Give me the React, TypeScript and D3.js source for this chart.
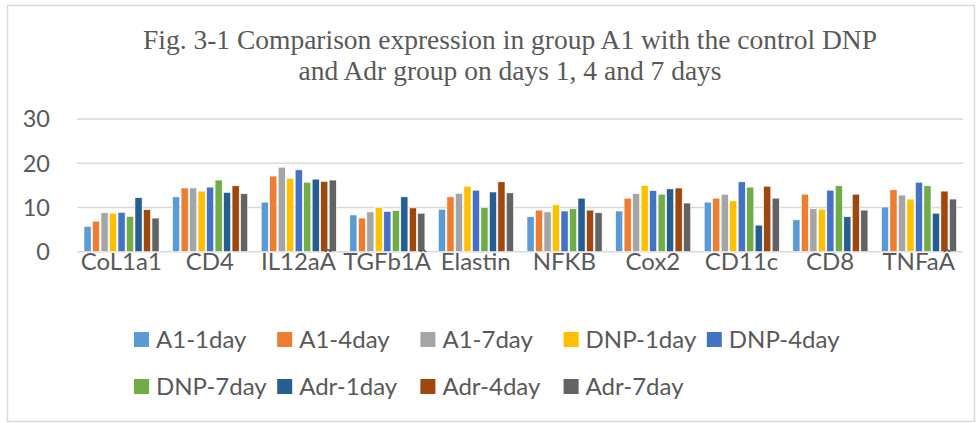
import React, { useRef, useEffect } from 'react'
import * as d3 from 'd3'

const categories = ['CoL1a1', 'CD4', 'IL12aÂ', 'TGFb1Â', 'Elastin', 'NFKB', 'Cox2', 'CD11c', 'CD8', 'TNFaÂ']

const seriesNames = ['A1-1day', 'A1-4day', 'A1-7day', 'DNP-1day', 'DNP-4day', 'DNP-7day', 'Adr-1day', 'Adr-4day', 'Adr-7day']

const a1Day1 = [5.7, 12.4, 11.2, 8.3, 9.6, 7.9, 9.2, 11.2, 7.2, 10.1]
const a1Day4 = [6.9, 14.4, 17.1, 7.6, 12.4, 9.4, 12.1, 12.1, 13.0, 14.0]
const a1Day7 = [8.8, 14.4, 19.1, 9.0, 13.2, 9.0, 13.1, 13.0, 9.7, 12.8]
const dnpDay1 = [8.7, 13.7, 16.6, 10.0, 14.8, 10.6, 15.0, 11.5, 9.6, 11.9]
const dnpDay4 = [8.9, 14.6, 18.5, 9.1, 13.9, 9.2, 13.8, 15.8, 13.9, 15.7]
const dnpDay7 = [8.0, 16.2, 15.7, 9.3, 10.0, 9.7, 13.0, 14.6, 14.9, 14.9]
const adrDay1 = [12.2, 13.4, 16.4, 12.4, 13.5, 12.1, 14.2, 6.0, 7.9, 8.7]
const adrDay4 = [9.5, 14.9, 15.9, 9.9, 15.8, 9.4, 14.4, 14.8, 13.0, 13.7]
const adrDay7 = [7.6, 13.1, 16.2, 8.7, 13.3, 8.8, 11.0, 12.1, 9.4, 11.9]

const seriesValues = [a1Day1, a1Day4, a1Day7, dnpDay1, dnpDay4, dnpDay7, adrDay1, adrDay4, adrDay7]
const colors = ['#5B9BD5', '#ED7D31', '#A5A5A5', '#FFC000', '#4472C4', '#70AD47', '#255E91', '#9E480E', '#636363']
const yTicks = [0, 10, 20, 30]

const titleLines = [
    'Fig. 3-1 Comparison expression in group A1 with the control DNP',
    'and Adr group on days 1, 4 and 7 days'
]

const W = 978
const H = 423
const textColor = '#595959'
const font = 'Lato, "Open Sans", sans-serif'

const App = () => {
    const ref = useRef(null)

    useEffect(() => {
        const svg = d3.select(ref.current)
        svg.selectAll('*').remove()

        // chart frame
        svg.append('rect')
            .attr('x', 7.5).attr('y', 5.5)
            .attr('width', 967).attr('height', 416)
            .attr('fill', '#fff')
            .attr('stroke', '#d9d9d9')
            .attr('stroke-width', 1.5)

        // title
        const title = svg.append('text')
            .attr('x', 510)
            .attr('text-anchor', 'middle')
            .attr('font-family', '"Liberation Serif", "Times New Roman", serif')
            .attr('font-size', 27.5)
            .attr('fill', textColor)
        titleLines.forEach((line, i) => {
            title.append('tspan').attr('x', 510).attr('y', 49 + i * 31).text(line)
        })

        const plot = { left: 77, right: 963, top: 119, bottom: 251.7 }

        const x0 = d3.scaleBand().domain(categories).range([plot.left, plot.right])
        const x1 = d3.scaleBand()
            .domain(seriesNames)
            .range([7, x0.bandwidth() - 6.5])
            .paddingInner(0.16)
        const y = d3.scaleLinear().domain([0, 30]).range([plot.bottom, plot.top])

        // gridlines
        svg.append('g')
            .selectAll('line')
            .data(yTicks)
            .join('line')
            .attr('x1', plot.left).attr('x2', plot.right)
            .attr('y1', d => y(d)).attr('y2', d => y(d))
            .attr('stroke', '#d9d9d9')
            .attr('stroke-width', 1.6)

        // y tick labels
        svg.append('g')
            .selectAll('text')
            .data(yTicks)
            .join('text')
            .attr('x', 50)
            .attr('y', d => y(d))
            .attr('dy', '0.36em')
            .attr('text-anchor', 'end')
            .attr('font-family', font)
            .attr('font-size', 23.5)
            .attr('fill', textColor)
            .text(d => d)

        // bars
        const groups = svg.append('g')
            .selectAll('g')
            .data(categories)
            .join('g')
            .attr('transform', d => `translate(${x0(d)},0)`)

        groups.selectAll('rect')
            .data((c, ci) => seriesNames.map((s, si) => ({ s, si, v: seriesValues[si][ci] })))
            .join('rect')
            .attr('x', d => x1(d.s))
            .attr('y', d => y(d.v))
            .attr('width', x1.bandwidth())
            .attr('height', d => y(0) - y(d.v))
            .attr('fill', d => colors[d.si])
            .attr('stroke', '#fff')
            .attr('stroke-width', 0.6)

        // category labels
        svg.append('g')
            .selectAll('text')
            .data(categories)
            .join('text')
            .attr('x', d => x0(d) + x0.bandwidth() / 2)
            .attr('y', 270)
            .attr('text-anchor', 'middle')
            .attr('font-family', font)
            .attr('font-size', 24)
            .attr('fill', textColor)
            .text(d => d)

        // legend, two rows
        const legend = svg.append('g')
        seriesNames.forEach((name, i) => {
            const row = i < 5 ? 0 : 1
            const col = i < 5 ? i : i - 5
            const item = legend.append('g')
                .attr('transform', `translate(${134 + col * 143.2},${339.5 + row * 47})`)
            item.append('rect')
                .attr('x', 0).attr('y', -7.5)
                .attr('width', 15).attr('height', 15)
                .attr('fill', colors[i])
            item.append('text')
                .attr('x', 22)
                .attr('dy', '0.36em')
                .attr('font-family', font)
                .attr('font-size', 24)
                .attr('fill', textColor)
                .text(name)
        })
    }, [])

    return <svg ref={ref} width={W} height={H} style={{ position: 'absolute', left: 0, top: 0 }}></svg>
}

export default App
